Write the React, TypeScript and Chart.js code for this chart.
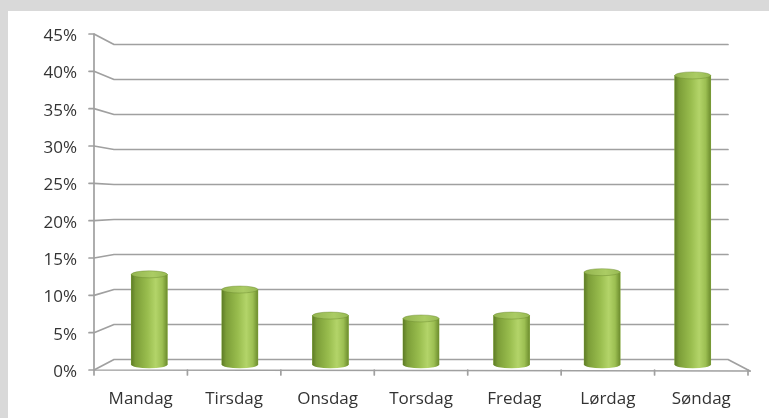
import React, { useEffect, useRef } from "react";
import { Chart, registerables } from "chart.js";

Chart.register(...registerables);

const categories = ["Mandag", "Tirsdag", "Onsdag", "Torsdag", "Fredag", "Lørdag", "Søndag"];
const shares = [12.5, 10.4, 6.8, 6.4, 6.8, 12.8, 40];
const yTicks = [0, 5, 10, 15, 20, 25, 30, 35, 40, 45];

const Y_MAX = 45;
const CANVAS_W = 761;
const CANVAS_H = 407;
const AREA_LEFT = 86;
const AREA_RIGHT = 740;
const AREA_TOP = 23;
const AREA_BOTTOM = 359;
const DEPTH_X = 20; // back wall inset (px)
const DEPTH_Y = 10.5;
const LINE = "#a0a0a0";

const AREA_W = AREA_RIGHT - AREA_LEFT;
const AREA_H = AREA_BOTTOM - AREA_TOP;
// bars sit half way into the depth
const midX = DEPTH_X / 2;
const midY = DEPTH_Y / 2;
const catW = (AREA_W - 2 * midX) / categories.length;
const XB_MIN = -(midX / catW + 0.5);
const XB_MAX = XB_MIN + AREA_W / catW;
const pxPerUnit = (AREA_H - 2 * midY) / Y_MAX;
const YB_MIN = -midY / pxPerUnit;
const YB_MAX = Y_MAX + midY / pxPerUnit;

const wallsPlugin = {
  id: "walls",
  beforeDatasetsDraw(chart: any) {
    const { ctx, chartArea: ca } = chart;
    const y = chart.scales.y;
    const x = chart.scales.x;
    const H = ca.bottom - ca.top;
    const backY = (fy: number) => ca.top + DEPTH_Y + ((fy - ca.top) * (H - 2 * DEPTH_Y)) / H;
    ctx.save();
    ctx.strokeStyle = LINE;
    ctx.lineWidth = 1.7;
    ctx.lineCap = "round";
    ctx.lineJoin = "round";
    yTicks.forEach((v) => {
      const fy = y.getPixelForValue(v);
      const by = backY(fy);
      ctx.beginPath();
      ctx.moveTo(ca.left - 5, fy);
      ctx.lineTo(ca.left, fy);
      ctx.lineTo(ca.left + DEPTH_X, by);
      ctx.lineTo(ca.right - DEPTH_X, by);
      if (v === 0) ctx.lineTo(ca.right + 2, fy + 1);
      ctx.stroke();
    });
    // front axis + floor edge
    ctx.beginPath();
    ctx.moveTo(ca.left, y.getPixelForValue(Y_MAX));
    ctx.lineTo(ca.left, y.getPixelForValue(0));
    ctx.lineTo(ca.right + 2, y.getPixelForValue(0) + 1);
    ctx.stroke();
    // category ticks
    const p0 = x.getPixelForValue(0);
    const p1 = x.getPixelForValue(1);
    const half = (p1 - p0) / 2;
    for (let i = 0; i <= categories.length; i++) {
      const px = i < categories.length ? x.getPixelForValue(i) - half : x.getPixelForValue(i - 1) + half;
      const py = y.getPixelForValue(0);
      ctx.beginPath();
      ctx.moveTo(px, py);
      ctx.lineTo(px, py + 5);
      ctx.stroke();
    }
    ctx.restore();
  },
  afterDatasetsDraw(chart: any) {
    const { ctx } = chart;
    const meta = chart.getDatasetMeta(0);
    ctx.save();
    meta.data.forEach((el: any) => {
      const w = el.width;
      const l = el.x - w / 2;
      const r = el.x + w / 2;
      const rx = w / 2;
      const ry = 3.5;
      const top = el.y;
      const base = el.base;
      const g = ctx.createLinearGradient(l, 0, r, 0);
      g.addColorStop(0, "#5e7c26");
      g.addColorStop(0.12, "#7c9e38");
      g.addColorStop(0.45, "#99bd4e");
      g.addColorStop(0.68, "#b3d469");
      g.addColorStop(0.86, "#9cbf52");
      g.addColorStop(1, "#6d8d2e");
      ctx.fillStyle = g;
      ctx.beginPath();
      ctx.moveTo(l, top);
      ctx.lineTo(l, base);
      ctx.ellipse(el.x, base, rx, ry, 0, Math.PI, 0, true);
      ctx.lineTo(r, top);
      ctx.closePath();
      ctx.fill();
      // top cap
      const tg = ctx.createLinearGradient(l, 0, r, 0);
      tg.addColorStop(0, "#94b550");
      tg.addColorStop(0.6, "#abcc64");
      tg.addColorStop(1, "#98ba54");
      ctx.fillStyle = tg;
      ctx.beginPath();
      ctx.ellipse(el.x, top, rx, ry, 0, 0, Math.PI * 2);
      ctx.fill();
      ctx.strokeStyle = "rgba(100,130,40,0.5)";
      ctx.lineWidth = 0.8;
      ctx.stroke();
    });
    ctx.restore();
  },
};

export default function App() {
  const ref = useRef<HTMLCanvasElement | null>(null);
  useEffect(() => {
    if (!ref.current) return;
    const chart = new Chart(ref.current, {
      type: "bar",
      data: {
        labels: categories,
        datasets: [
          {
            data: categories.map((_, i) => ({ x: i, y: shares[i] })) as any,
            xAxisID: "xb",
            yAxisID: "yb",
            backgroundColor: "#8db247",
            borderWidth: 0,
            barThickness: 36,
          },
        ],
      },
      options: {
        responsive: false,
        animation: false,
        events: [],
        layout: {
          padding: { top: AREA_TOP, right: CANVAS_W - AREA_RIGHT, left: 0, bottom: 0 },
        },
        plugins: { legend: { display: false }, tooltip: { enabled: false } },
        scales: {
          x: {
            type: "category",
            position: "bottom",
            offset: true,
            grid: { display: false },
            border: { display: false },
            ticks: {
              padding: 11,
              color: "#333333",
              font: { family: "'Open Sans'", size: 17 },
              maxRotation: 0,
            },
            afterFit: (s: any) => {
              s.height = CANVAS_H - AREA_BOTTOM;
            },
          },
          y: {
            type: "linear",
            position: "left",
            min: 0,
            max: Y_MAX,
            grid: { display: false },
            border: { display: false },
            ticks: {
              stepSize: 5,
              padding: 9,
              labelOffset: 2,
              color: "#333333",
              font: { family: "'Open Sans'", size: 17 },
              callback: (v: any) => v + "%",
            },
            afterFit: (s: any) => {
              s.width = AREA_LEFT;
            },
          },
          xb: {
            type: "linear",
            display: false,
            offset: false,
            min: XB_MIN,
            max: XB_MAX,
          },
          yb: {
            type: "linear",
            display: false,
            min: YB_MIN,
            max: YB_MAX,
          },
        },
      },
      plugins: [wallsPlugin],
    });
    return () => chart.destroy();
  }, []);
  return (
    <div
      style={{
        position: "fixed",
        left: 0,
        top: 0,
        width: 769,
        height: 418,
        background: "#d9d9d9",
        overflow: "hidden",
      }}
    >
      <canvas
        ref={ref}
        width={CANVAS_W}
        height={CANVAS_H}
        style={{ position: "absolute", left: 8, top: 11, width: CANVAS_W, height: CANVAS_H, background: "#ffffff" }}
      />
    </div>
  );
}
